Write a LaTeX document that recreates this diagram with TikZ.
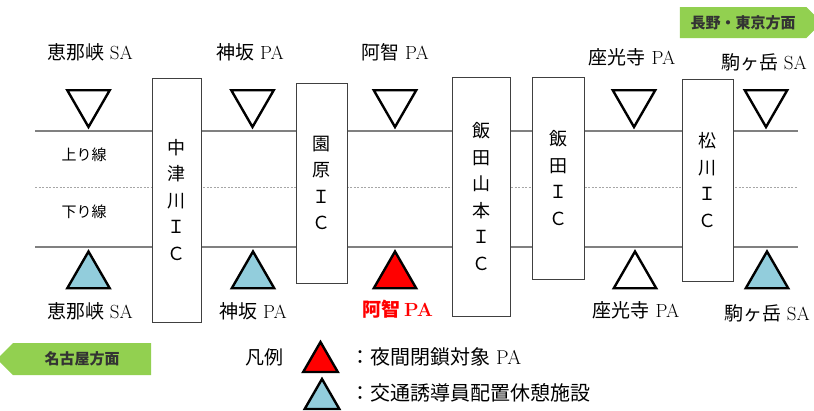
\documentclass[tikz,border=0pt]{standalone}
\usepackage{fontspec}
\newfontfamily\jp{Noto Sans CJK JP}
\usetikzlibrary{shapes.geometric,shapes.symbols,shadows}
\definecolor{signgreen}{RGB}{146,208,80}
\definecolor{restblue}{RGB}{146,205,220}

\begin{document}
\begin{tikzpicture}[x=1pt,y=-1pt,
    road/.style={draw=black!50,line width=1.3pt},
    median/.style={draw=black!35,line width=1pt,dash pattern=on 2pt off 1.5pt},
    icbox/.style={draw=black!75,fill=white,line width=0.8pt,inner sep=0pt,align=center,
        font=\jp\fontsize{18}{26.5}\selectfont,
        drop shadow={shadow xshift=1pt,shadow yshift=-1.2pt,opacity=0.3,fill=black}},
    downtri/.style={regular polygon,regular polygon sides=3,shape border rotate=180,
        minimum size=49,inner sep=0pt,draw,line width=2.4pt},
    uptri/.style={regular polygon,regular polygon sides=3,minimum size=49,inner sep=0pt,
        draw,line width=2.4pt},
    keytri/.style={uptri,minimum size=40},
    lbl/.style={inner sep=0pt,font=\fontsize{19}{21}\selectfont},
    lane/.style={inner sep=0pt,font=\jp\fontsize{15}{17}\selectfont},
    dirsign/.style={signal,signal from=nowhere,fill=signgreen,inner sep=0pt,
        text=black!80,font=\jp\bfseries\fontsize{15}{17}\selectfont}
]
\useasboundingbox (0,0) rectangle (814,410);

\coordinate (upW) at (35,131);
\coordinate (upE) at (798,131);
\coordinate (midW) at (35,187);
\coordinate (midE) at (798,187);
\coordinate (dnW) at (35,247);
\coordinate (dnE) at (798,247);
\draw[road] (upW) -- (upE);
\draw[median] (midW) -- (midE);
\draw[road] (dnW) -- (dnE);

\node[lane] (upline) at (84,155) {上り線};
\node[lane] (dnline) at (84,212) {下り線};

\node[icbox,minimum width=49,minimum height=244] (nakatsugawa) at (176.5,200) {中\\津\\川\\Ｉ\\Ｃ};
\node[icbox,minimum width=51,minimum height=200] (sonohara) at (321.5,183) {園\\原\\Ｉ\\Ｃ};
\node[icbox,minimum width=58,minimum height=239] (iidayamamoto) at (481,196.5) {飯\\田\\山\\本\\Ｉ\\Ｃ};
\node[icbox,minimum width=52,minimum height=202] (iida) at (558,178) {飯\\田\\Ｉ\\Ｃ};
\node[icbox,minimum width=51,minimum height=202] (matsukawa) at (707.5,180) {松\\川\\Ｉ\\Ｃ};

\node[downtri] (enaU) at (88.5,102.5) {};
\node[downtri] (misakaU) at (252.5,102.5) {};
\node[downtri] (achiU) at (395,102.5) {};
\node[downtri] (zakojiU) at (634,102.5) {};
\node[downtri] (komaU) at (766,102.5) {};

\node[uptri,fill=restblue] (enaD) at (88.5,276) {};
\node[uptri,fill=restblue] (misakaD) at (253,276) {};
\node[uptri,fill=red] (achiD) at (395,276) {};
\node[uptri,fill=white] (zakojiD) at (635,276) {};
\node[uptri,fill=restblue] (komaD) at (767,276) {};

\node[lbl] (enaUt) at (90,52) {{\jp 恵那峡} SA};
\node[lbl] (misakaUt) at (250,52) {{\jp 神坂} PA};
\node[lbl] (achiUt) at (395,52) {{\jp 阿智} PA};
\node[lbl] (zakojiUt) at (632,57) {{\jp 座光寺} PA};
\node[lbl] (komaUt) at (764,62) {{\jp 駒ヶ岳} SA};

\node[lbl] (enaDt) at (90,311) {{\jp 恵那峡} SA};
\node[lbl] (misakaDt) at (253,311) {{\jp 神坂} PA};
\node[lbl,text=red,font=\bfseries\fontsize{19}{21}\selectfont] (achiDt) at (398,309) {{\jp 阿智}\,PA};
\node[lbl] (zakojiDt) at (636,310) {{\jp 座光寺} PA};
\node[lbl] (komaDt) at (767,313) {{\jp 駒ヶ岳} SA};

\node[dirsign,signal to=east,minimum width=142,minimum height=31] (tokyo) at (743,22.5) {長野・東京方面};
\node[dirsign,signal to=west,minimum width=154,minimum height=32] (nagoya) at (82,359) {名古屋方面};

\node[lbl,font=\jp\fontsize{19}{21}\selectfont] (legend) at (264,357) {凡例};
\node[keytri,fill=red] (keyred) at (320.5,362) {};
\node[keytri,fill=restblue] (keyblue) at (322,399) {};
\node[lbl,anchor=west,font=\fontsize{20}{22}\selectfont] (keyredt) at (350,357) {{\jp ：夜間閉鎖対象} PA};
\node[lbl,anchor=west,font=\jp\fontsize{20}{22}\selectfont] (keybluet) at (350,393) {：交通誘導員配置休憩施設};
\end{tikzpicture}
\end{document}
